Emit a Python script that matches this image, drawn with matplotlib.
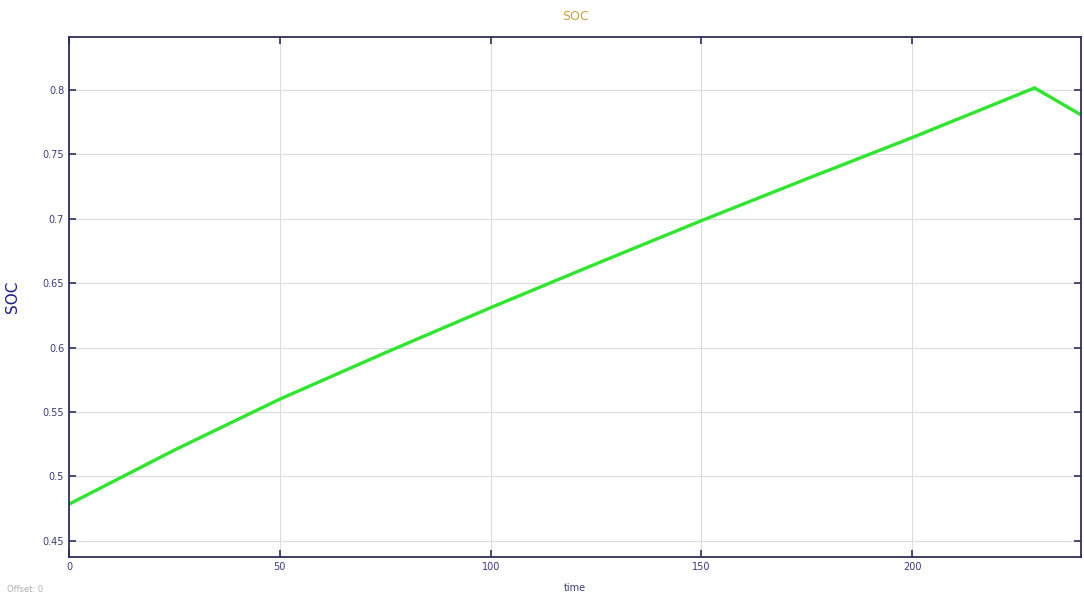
import matplotlib
matplotlib.use("Agg")
import matplotlib.pyplot as plt

# SOC trace: charging ramp up to ~0.8, then discharge at the end
t = [0, 25, 50, 75, 100, 125, 150, 175, 200, 229, 240]
soc = [0.4785, 0.5205, 0.5600, 0.5960, 0.6310, 0.6650, 0.6985, 0.7310, 0.7630, 0.8015, 0.7806]

x_ticks = [0, 50, 100, 150, 200]
y_ticks = [0.45, 0.5, 0.55, 0.6, 0.65, 0.7, 0.75, 0.8]
y_tick_labels = ["0.45", "0.5", "0.55", "0.6", "0.65", "0.7", "0.75", "0.8"]

navy = "#2e2e5e"
tick_col = "#3a3a80"

fig = plt.figure(figsize=(10.84, 5.94), dpi=100)
ax = fig.add_axes([0.0637, 0.0623, 0.9335, 0.8754])

ax.plot(t, soc, color="#2ee62e", lw=2.4, solid_joinstyle="round")

ax.set_xlim(0, 240)
ax.set_ylim(0.4375, 0.841)
ax.set_xticks(x_ticks)
ax.set_yticks(y_ticks)
ax.set_yticklabels(y_tick_labels)

ax.grid(True, color="#dcdcdc", lw=0.8)
ax.tick_params(direction="in", length=5, width=1.2, colors=navy,
               labelsize=7, labelcolor=tick_col, top=True, right=True)
for s in ax.spines.values():
    s.set_color(navy)
    s.set_linewidth(1.3)

ax.set_title("SOC", color="#c9a23a", fontsize=9, pad=12)
ax.set_ylabel("SOC", color="#1e1e88", fontsize=11, labelpad=16)
ax.set_xlabel("time", color=tick_col, fontsize=7, labelpad=8)

fig.text(0.006, 0.004, "Offset: 0", color="#b0b0b0", fontsize=6)

fig.savefig("out.png", dpi=100)
